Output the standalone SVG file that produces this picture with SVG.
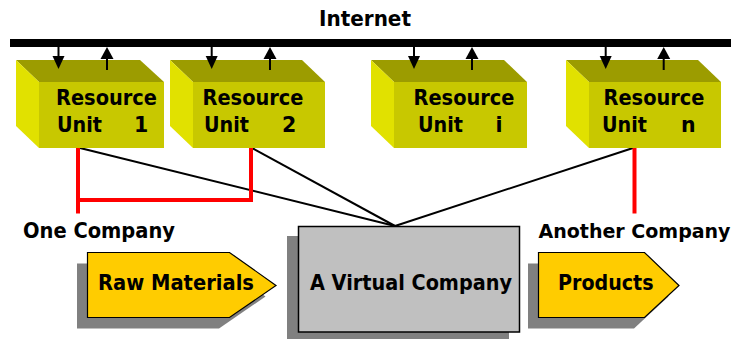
<svg xmlns="http://www.w3.org/2000/svg" width="738" height="339" viewBox="0 0 738 339">
<style>
text{font-family:"DejaVu Sans","Verdana",sans-serif;font-weight:bold;font-size:20.5px;fill:#000}
text.small{font-size:19px}
.top{fill:#9c9c00}
.front{fill:#c8c800}
.side{fill:#e1e100}
.shadow{fill:#808080}
.blk{stroke:#000;stroke-width:2;fill:none}
.red{stroke:#ff0000;stroke-width:4;fill:none}
.arr{stroke:#000;stroke-width:2}
</style>
<defs>
<g id="dn"><line class="arr" x1="0" y1="47" x2="0" y2="58"/><polygon points="-6,56 6,56 0,69" fill="#000"/></g>
<g id="up"><line class="arr" x1="0" y1="70" x2="0" y2="58"/><polygon points="-6.5,59 6.5,59 0,47" fill="#000"/></g>
</defs>
<g id="internet">
<rect x="10" y="39" width="721" height="8" fill="#000"/>
<text x="319" y="26" textLength="92" lengthAdjust="spacingAndGlyphs">Internet</text>
</g>
<g id="connectors">
<line class="blk" x1="80" y1="148" x2="395" y2="226"/>
<line class="blk" x1="252" y1="148" x2="395" y2="226"/>
<line class="blk" x1="633" y1="148" x2="395" y2="226"/>
<polyline class="red" points="78,148 78,213.5"/>
<polyline class="red" points="78,200 251,200 251,148"/>
<line class="red" x1="634.5" y1="148" x2="634.5" y2="213.5"/>
</g>
<g id="ru1">
<polygon class="top" points="16,60 140,60 164,82 39,82"/>
<polygon class="side" points="16,60 39,82 39,148 16,126"/>
<rect class="front" x="39" y="82" width="125" height="66"/>
<text x="56" y="105" textLength="101" lengthAdjust="spacingAndGlyphs">Resource</text>
<text x="57" y="131.5" textLength="45" lengthAdjust="spacingAndGlyphs">Unit</text>
<text x="134" y="131.5">1</text>
<use href="#dn" x="58.5"/><use href="#up" x="107"/>
</g>
<g id="ru2">
<polygon class="top" points="170,60 302,60 325,82 193,82"/>
<polygon class="side" points="170,60 193,82 193,148 170,126"/>
<rect class="front" x="193" y="82" width="132" height="66"/>
<text x="202.5" y="105" textLength="101" lengthAdjust="spacingAndGlyphs">Resource</text>
<text x="204" y="131.5" textLength="45" lengthAdjust="spacingAndGlyphs">Unit</text>
<text x="282" y="131.5">2</text>
<use href="#dn" x="211.7"/><use href="#up" x="270"/>
</g>
<g id="rui">
<polygon class="top" points="371,60 504,60 527,82 394,82"/>
<polygon class="side" points="371,60 394,82 394,148 371,126"/>
<rect class="front" x="394" y="82" width="133" height="66"/>
<text x="413.5" y="105" textLength="101" lengthAdjust="spacingAndGlyphs">Resource</text>
<text x="418" y="131.5" textLength="45" lengthAdjust="spacingAndGlyphs">Unit</text>
<text x="495.5" y="131.5">i</text>
<use href="#dn" x="414"/><use href="#up" x="472"/>
</g>
<g id="run">
<polygon class="top" points="566,60 698,60 721,82 589,82"/>
<polygon class="side" points="566,60 589,82 589,148 566,126"/>
<rect class="front" x="589" y="82" width="132" height="66"/>
<text x="603.5" y="105" textLength="101" lengthAdjust="spacingAndGlyphs">Resource</text>
<text x="602" y="131.5" textLength="45" lengthAdjust="spacingAndGlyphs">Unit</text>
<text x="681" y="131.5">n</text>
<use href="#dn" x="605.7"/><use href="#up" x="663.7"/>
</g>
<g id="one-company"><text x="23" y="238" textLength="152" lengthAdjust="spacingAndGlyphs">One Company</text></g>
<g id="another-company"><text class="small" x="538.5" y="238" textLength="192" lengthAdjust="spacingAndGlyphs">Another Company</text></g>
<g id="raw-materials">
<polygon class="shadow" transform="translate(-10.5,11)" points="87.5,252.5 229.5,252.5 276,285.5 229.5,317.5 87.5,317.5"/>
<polygon points="87.5,252.5 229.5,252.5 276,285.5 229.5,317.5 87.5,317.5" fill="#ffcc00" stroke="#000" stroke-width="1.2"/>
<text x="98" y="290" textLength="156" lengthAdjust="spacingAndGlyphs">Raw Materials</text>
</g>
<g id="virtual-company">
<rect class="shadow" x="287" y="236" width="222" height="106"/>
<rect x="298.5" y="226.5" width="221" height="105.5" fill="#c0c0c0" stroke="#000" stroke-width="1.5"/>
<text x="310" y="290" textLength="202" lengthAdjust="spacingAndGlyphs">A Virtual Company</text>
</g>
<g id="products">
<polygon class="shadow" transform="translate(-10.5,11)" points="538.5,252.5 644.5,252.5 679,285.5 644.5,317.5 538.5,317.5"/>
<polygon points="538.5,252.5 644.5,252.5 679,285.5 644.5,317.5 538.5,317.5" fill="#ffcc00" stroke="#000" stroke-width="1.2"/>
<text x="558" y="290" textLength="95.5" lengthAdjust="spacingAndGlyphs">Products</text>
</g>
</svg>
